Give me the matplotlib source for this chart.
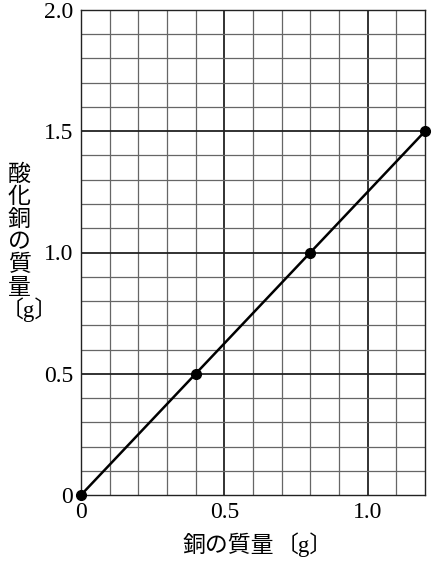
import numpy as np
import matplotlib
matplotlib.use("Agg")
import matplotlib.pyplot as plt

plt.rcParams['font.family'] = ['Liberation Serif', 'Noto Sans CJK JP']

# data
copper_mass = [0, 0.4, 0.8, 1.2]
oxide_mass = [0, 0.5, 1.0, 1.5]
x_ticks = [0, 0.5, 1.0]
x_tick_labels = ["0", "0.5", "1.0"]
y_ticks = [0, 0.5, 1.0, 1.5, 2.0]
y_tick_labels = ["0", "0.5", "1.0", "1.5", "2.0"]
xlabel = "銅の質量"
ylabel_chars = ["酸", "化", "銅", "の", "質", "量"]
unit = "〔g〕"

W, H = 434, 561
fig = plt.figure(figsize=(W / 100, H / 100), dpi=100)
ax = fig.add_axes([81/W, 1 - 495/H, (425 - 81)/W, (495 - 10)/H])
ax.set_xlim(0, 1.2)
ax.set_ylim(0, 2.0)

# grid: minor every 0.1, major every 0.5
for v in np.arange(0.1, 1.2, 0.1):
    major = abs(v / 0.5 - round(v / 0.5)) < 1e-6
    ax.axvline(v, color="#222222" if major else "#666666", lw=1.3 if major else 0.9, zorder=1)
for v in np.arange(0.1, 2.0, 0.1):
    major = abs(v / 0.5 - round(v / 0.5)) < 1e-6
    ax.axhline(v, color="#222222" if major else "#666666", lw=1.3 if major else 0.9, zorder=1)

for s in ax.spines.values():
    s.set_linewidth(1.0)
    s.set_color("#222222")

ax.plot(copper_mass, oxide_mass, color="black", lw=1.8, marker="o",
        markersize=7, clip_on=False, zorder=3)

ax.set_xticks(x_ticks)
ax.set_xticklabels(x_tick_labels)
ax.set_yticks(y_ticks)
ax.set_yticklabels(y_tick_labels)
ax.tick_params(length=0, labelsize=17)
ax.tick_params(axis="y", pad=5.5)
ax.tick_params(axis="x", pad=5)

def px(x, y):
    return x / W, 1 - y / H

cjk = ['Noto Sans CJK JP']
unit_fam = ['Liberation Serif', 'Noto Sans CJK JP']
fs = 16.5

# x label
fig.text(*px(183, 545), xlabel, fontsize=fs, family=cjk, ha="left", va="center")
fig.text(*px(276, 545), unit, fontsize=fs, family=unit_fam, ha="left", va="center")

# vertical y label, one character per line
for i, ch in enumerate(ylabel_chars):
    fig.text(*px(19, 174 + i * 22.6), ch, fontsize=fs, family=cjk,
             ha="center", va="center")
fig.text(*px(1, 310), unit, fontsize=fs, family=unit_fam, ha="left", va="center")

fig.savefig("out.png", dpi=100)
